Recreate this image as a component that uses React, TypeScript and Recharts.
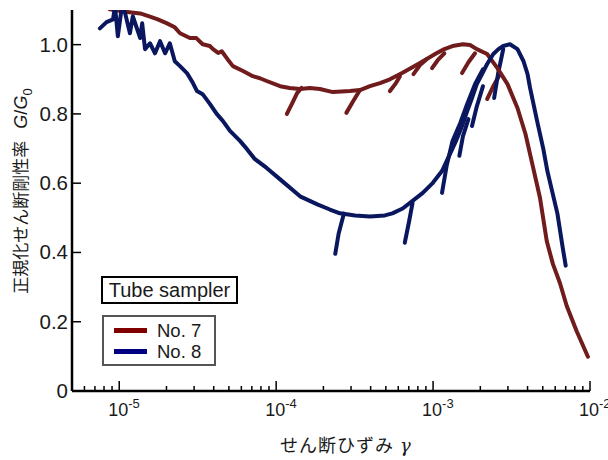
import React from "react";
import { LineChart, Line, XAxis, YAxis } from "recharts";

// strain gamma, normalized shear modulus G/G0
const no7Main: [number, number][] = [
  [8.7e-6, 1.102], [1.09e-5, 1.095], [1.36e-5, 1.09], [1.57e-5, 1.081], [1.76e-5, 1.073],
  [2.0e-5, 1.062], [2.26e-5, 1.05], [2.44e-5, 1.033], [2.82e-5, 1.019], [3.1e-5, 1.019],
  [3.4e-5, 1.001], [3.78e-5, 0.996], [3.96e-5, 0.987], [4.27e-5, 0.976], [4.5e-5, 0.981],
  [4.9e-5, 0.958], [5.3e-5, 0.938], [6.15e-5, 0.924], [7.1e-5, 0.909], [7.88e-5, 0.903],
  [8.7e-5, 0.895], [1.06e-4, 0.88], [1.22e-4, 0.875], [1.42e-4, 0.872], [1.64e-4, 0.875],
  [1.9e-4, 0.872], [2.3e-4, 0.863], [2.95e-4, 0.866], [3.42e-4, 0.869], [3.96e-4, 0.88],
  [4.59e-4, 0.889], [5.31e-4, 0.9], [6.35e-4, 0.918], [8.25e-4, 0.947], [1.05e-3, 0.975],
  [1.18e-3, 0.987], [1.33e-3, 0.996], [1.55e-3, 1.001], [1.72e-3, 0.999], [1.9e-3, 0.987],
  [2.21e-3, 0.973], [2.57e-3, 0.932], [2.98e-3, 0.886], [3.45e-3, 0.817], [3.88e-3, 0.742],
  [4.15e-3, 0.684], [4.8e-3, 0.558], [5.3e-3, 0.433], [5.8e-3, 0.367], [6.44e-3, 0.311],
  [7.1e-3, 0.246], [8.2e-3, 0.174], [9.7e-3, 0.099],
];

const no7Hooks: [number, number][][] = [
  [[1.17e-4, 0.8], [1.26e-4, 0.829], [1.36e-4, 0.86], [1.45e-4, 0.875]],
  [[2.8e-4, 0.803], [3.1e-4, 0.837], [3.42e-4, 0.869]],
  [[5.31e-4, 0.866], [5.8e-4, 0.889], [6.15e-4, 0.909]],
  [[7.5e-4, 0.915], [8.25e-4, 0.941], [9.1e-4, 0.958]],
  [[9.85e-4, 0.932], [1.07e-3, 0.955], [1.18e-3, 0.975]],
  [[1.53e-3, 0.918], [1.68e-3, 0.949], [1.85e-3, 0.975]],
  [[2.21e-3, 0.843], [2.42e-3, 0.88], [2.67e-3, 0.915]],
];

const no8Main: [number, number][] = [
  [7.53e-6, 1.047], [8.3e-6, 1.065], [9.13e-6, 1.073], [9.4e-6, 1.111], [9.8e-6, 1.024],
  [1.04e-5, 1.111], [1.09e-5, 1.091], [1.17e-5, 1.033], [1.22e-5, 1.082], [1.36e-5, 1.019],
  [1.4e-5, 1.062], [1.46e-5, 0.987], [1.57e-5, 1.004], [1.69e-5, 0.975], [1.82e-5, 1.01],
  [1.96e-5, 0.975], [2.1e-5, 1.004], [2.26e-5, 0.952], [2.44e-5, 0.938], [2.7e-5, 0.918],
  [2.95e-5, 0.889], [3.13e-5, 0.866], [3.4e-5, 0.857], [3.78e-5, 0.829], [4.18e-5, 0.8],
  [4.57e-5, 0.78], [5.08e-5, 0.751], [5.88e-5, 0.722], [6.5e-5, 0.699], [7.3e-5, 0.67],
  [8.7e-5, 0.644], [1.06e-4, 0.611], [1.42e-4, 0.562], [1.83e-4, 0.539], [2.2e-4, 0.524],
  [2.55e-4, 0.513], [3.18e-4, 0.507], [3.96e-4, 0.504], [4.93e-4, 0.507], [5.5e-4, 0.513],
  [6.4e-4, 0.527], [7.4e-4, 0.549], [8.6e-4, 0.572], [9.97e-4, 0.601], [1.14e-3, 0.635],
  [1.28e-3, 0.684], [1.4e-3, 0.722], [1.53e-3, 0.765], [1.65e-3, 0.808], [1.77e-3, 0.846],
  [1.9e-3, 0.886], [2.05e-3, 0.915], [2.21e-3, 0.944], [2.42e-3, 0.973], [2.61e-3, 0.987],
  [2.8e-3, 0.996], [3.09e-3, 1.001], [3.45e-3, 0.987], [3.77e-3, 0.952], [4.0e-3, 0.915],
  [4.15e-3, 0.875], [4.6e-3, 0.78], [5.04e-3, 0.699], [5.35e-3, 0.635], [5.77e-3, 0.572],
  [6.2e-3, 0.512], [6.7e-3, 0.414], [7.0e-3, 0.362],
];

const no8Hooks: [number, number][][] = [
  [[2.38e-4, 0.396], [2.5e-4, 0.454], [2.7e-4, 0.512]],
  [[6.6e-4, 0.428], [7.0e-4, 0.485], [7.4e-4, 0.543]],
  [[1.14e-3, 0.572], [1.22e-3, 0.65], [1.33e-3, 0.722], [1.49e-3, 0.774], [1.65e-3, 0.829], [1.85e-3, 0.886], [2.08e-3, 0.929]],
  [[1.47e-3, 0.679], [1.55e-3, 0.736], [1.68e-3, 0.785]],
  [[1.77e-3, 0.765], [1.9e-3, 0.822], [2.08e-3, 0.88]],
  [[2.45e-3, 0.846], [2.6e-3, 0.918], [2.8e-3, 0.987]],
];

const xTicks = [
  6e-6, 7e-6, 8e-6, 9e-6,
  1e-5, 2e-5, 3e-5, 4e-5, 5e-5, 6e-5, 7e-5, 8e-5, 9e-5,
  1e-4, 2e-4, 3e-4, 4e-4, 5e-4, 6e-4, 7e-4, 8e-4, 9e-4,
  1e-3, 2e-3, 3e-3, 4e-3, 5e-3, 6e-3, 7e-3, 8e-3, 9e-3,
  1e-2,
];
const yTicks = [0, 0.2, 0.4, 0.6, 0.8, 1.0];

const RED = "#701c1c";
const BLUE = "#0a175e";
const FONT = "'Liberation Sans', Arial, 'Noto Sans CJK JP', sans-serif";

const toPts = (arr: [number, number][]) => arr.map(([g, r]) => ({ g, r }));

const isMajor = (v: number) => {
  const l = Math.log10(v);
  return Math.abs(l - Math.round(l)) < 1e-6;
};

const BottomTick = (props: any) => {
  const { x, y, payload } = props;
  const major = isMajor(payload.value);
  return (
    <g>
      <line x1={x} x2={x} y1={y} y2={y - (major ? 10 : 5)} stroke="#000" strokeWidth={1.5} />
      {major && (
        <text x={x - 11} y={y + 25} fontSize={18} fontFamily={FONT} fill="#1a1a1a">
          10
          <tspan dy={-8} fontSize={13}>{String(Math.round(Math.log10(payload.value)))}</tspan>
        </text>
      )}
    </g>
  );
};

const TopTick = (props: any) => {
  const { x, y, payload } = props;
  const major = isMajor(payload.value);
  return <line x1={x} x2={x} y1={y} y2={y + (major ? 10 : 5)} stroke="#000" strokeWidth={1.5} />;
};

const LeftTick = (props: any) => {
  const { x, y, payload } = props;
  const v = payload.value as number;
  return (
    <g>
      <line x1={x} x2={x + 9} y1={y} y2={y} stroke="#000" strokeWidth={1.5} />
      <text x={x - 4} y={y + 7} textAnchor="end" fontSize={20.5} fontFamily={FONT} fill="#1a1a1a">
        {v === 0 ? "0" : v.toFixed(1)}
      </text>
    </g>
  );
};

const RightTick = (props: any) => {
  const { x, y } = props;
  return <line x1={x} x2={x - 9} y1={y} y2={y} stroke="#000" strokeWidth={1.5} />;
};

const XTitle = () => (
  <text x={346} y={452} textAnchor="middle" fontSize={18} fontFamily={FONT} fill="#1a1a1a" letterSpacing={1}>
    せん断ひずみ
    <tspan dx={6} fontFamily="'DejaVu Serif', serif" fontStyle="italic">γ</tspan>
  </text>
);

const YTitle = () => (
  <text transform="rotate(-90)" x={-191} y={27} textAnchor="middle" fontSize={17} fontFamily={FONT} fill="#1a1a1a">
    正規化せん断剛性率
    <tspan dx={12} fontSize={18} fontStyle="italic">G</tspan>
    <tspan fontSize={18}>/</tspan>
    <tspan fontSize={18} fontStyle="italic">G</tspan>
    <tspan dy={5} fontSize={13}>0</tspan>
  </text>
);

export default function App() {
  const lineProps = {
    type: "linear" as const,
    dataKey: "r",
    dot: false,
    strokeWidth: 4,
    strokeLinecap: "round" as const,
    strokeLinejoin: "round" as const,
    isAnimationActive: false,
    legendType: "none" as const,
  };
  return (
    <div style={{ position: "absolute", left: 0, top: 0, width: 608, height: 460, background: "#fff" }}>
      <LineChart width={608} height={460} margin={{ top: 10, right: 18, left: 0, bottom: 0 }}>
        <XAxis
          dataKey="g"
          type="number"
          scale="log"
          domain={[5e-6, 1e-2]}
          allowDataOverflow
          ticks={xTicks}
          interval={0}
          height={69}
          tickSize={0}
          tickMargin={0}
          tickLine={false}
          axisLine={{ stroke: "#000", strokeWidth: 2.5 }}
          tick={<BottomTick />}
          label={<XTitle />}
        />
        <XAxis
          xAxisId="top"
          orientation="top"
          dataKey="g"
          type="number"
          scale="log"
          domain={[5e-6, 1e-2]}
          allowDataOverflow
          ticks={xTicks}
          interval={0}
          height={0}
          tickSize={0}
          tickMargin={0}
          tickLine={false}
          axisLine={{ stroke: "#000", strokeWidth: 2.5 }}
          tick={<TopTick />}
        />
        <YAxis
          type="number"
          domain={[0, 1.1]}
          allowDataOverflow
          ticks={yTicks}
          interval={0}
          width={72}
          tickSize={0}
          tickMargin={0}
          tickLine={false}
          axisLine={{ stroke: "#000", strokeWidth: 2.5 }}
          tick={<LeftTick />}
          label={<YTitle />}
        />
        <YAxis
          yAxisId="right"
          orientation="right"
          type="number"
          domain={[0, 1.1]}
          allowDataOverflow
          ticks={yTicks}
          interval={0}
          width={0}
          tickSize={0}
          tickMargin={0}
          tickLine={false}
          axisLine={{ stroke: "#000", strokeWidth: 2.5 }}
          tick={<RightTick />}
        />
        {no7Hooks.map((h, i) => (
          <Line key={"h7" + i} {...lineProps} data={toPts(h)} stroke={RED} />
        ))}
        {no8Hooks.map((h, i) => (
          <Line key={"h8" + i} {...lineProps} data={toPts(h)} stroke={BLUE} />
        ))}
        <Line {...lineProps} data={toPts(no7Main)} stroke={RED} name="No. 7" />
        <Line {...lineProps} data={toPts(no8Main)} stroke={BLUE} name="No. 8" />
      </LineChart>

      <div
        style={{
          position: "absolute", left: 101, top: 276, width: 133, height: 24,
          border: "2px solid #000", fontFamily: FONT, fontSize: 20, color: "#1a1a1a",
          display: "flex", alignItems: "center", justifyContent: "center", background: "#fff",
        }}
      >
        Tube sampler
      </div>
      <div
        style={{
          position: "absolute", left: 102, top: 315, width: 110, height: 47,
          border: "2px solid #555", fontFamily: FONT, fontSize: 18.5, color: "#1a1a1a", background: "#fff",
        }}
      >
        {[{ c: "#800000", t: "No. 7" }, { c: "#000080", t: "No. 8" }].map((e, i) => (
          <div key={i} style={{ position: "absolute", left: 0, top: 3 + i * 21, height: 21, display: "flex", alignItems: "center" }}>
            <span style={{ display: "inline-block", marginLeft: 10, width: 33, height: 4.5, background: e.c }} />
            <span style={{ marginLeft: 10, lineHeight: "21px" }}>{e.t}</span>
          </div>
        ))}
      </div>
    </div>
  );
}
